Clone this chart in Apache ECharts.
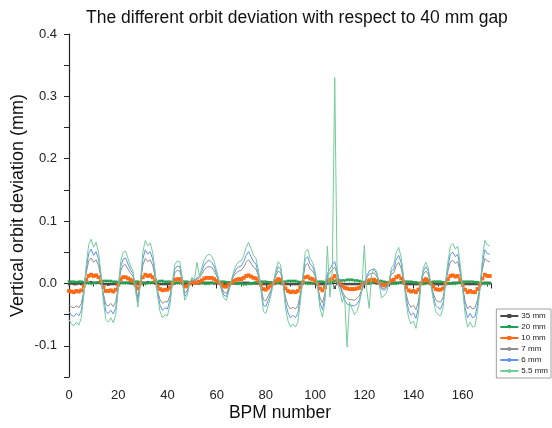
<!DOCTYPE html>
<html>
<head>
<meta charset="utf-8">
<script src="https://cdn.jsdelivr.net/npm/echarts@6/dist/echarts.min.js"></script>
<style>
  html, body { margin: 0; padding: 0; background: #fff; }
  #chart { width: 552px; height: 428px; }
</style>
</head>
<body>
<div id="chart"></div>
<script>
const seriesNames = ['35 mm', '20 mm', '10 mm', '7 mm', '6 mm', '5.5 mm'];
const xTicks = [0, 20, 40, 60, 80, 100, 120, 140, 160];
const yTicks = [-0.1, 0.0, 0.1, 0.2, 0.3, 0.4];

const gap35 = [
  -0.001, 0.000, -0.001, -0.001, 0.000, -0.001, 0.000, 0.001, 0.001, 0.002, 0.001, 0.001, 0.001, 0.000, -0.001, -0.001,
  -0.002, -0.001, -0.001, -0.001, 0.000, 0.001, 0.001, 0.001, 0.001, 0.000, 0.000, 0.000, -0.001, 0.000, 0.001, 0.001,
  0.002, 0.001, 0.001, 0.000, 0.000, -0.001, -0.001, -0.001, -0.001, -0.001, 0.000, 0.000, 0.001, 0.001, 0.000, -0.001,
  -0.001, 0.000, 0.000, 0.000, 0.000, 0.000, 0.001, 0.001, 0.001, 0.001, 0.001, 0.000, 0.000, 0.000, -0.001, -0.001,
  -0.001, 0.000, 0.000, 0.000, 0.000, 0.001, 0.001, 0.001, 0.001, 0.001, 0.000, 0.000, 0.000, 0.000, -0.001, -0.001,
  -0.001, -0.001, 0.000, 0.000, 0.000, 0.001, 0.000, 0.000, -0.001, -0.001, -0.001, -0.001, -0.001, -0.001, 0.000, 0.000,
  0.001, 0.001, 0.001, 0.000, 0.000, 0.000, -0.001, -0.001, -0.001, 0.000, 0.000, 0.001, -0.007, 0.001, 0.000, -0.001,
  -0.001, -0.001, -0.001, -0.001, -0.001, -0.001, -0.001, -0.001, 0.000, 0.000, 0.000, 0.001, 0.001, 0.000, 0.000, -0.001,
  -0.001, -0.001, 0.000, 0.000, 0.001, 0.001, 0.001, 0.001, 0.000, -0.001, -0.001, -0.001, -0.001, -0.001, -0.001, 0.000,
  0.000, 0.001, 0.001, 0.000, 0.000, -0.001, -0.001, -0.001, -0.001, -0.001, 0.000, 0.000, 0.001, 0.001, 0.001, 0.001,
  0.000, -0.001, -0.001, -0.001, -0.001, -0.001, -0.001, 0.000, 0.000, 0.001, 0.001, 0.001
];

const gap20 = [
  0.002, 0.002, 0.002, 0.001, 0.002, 0.002, 0.001, 0.000, 0.000, -0.001, 0.000, 0.000, 0.001, 0.002, 0.003, 0.003,
  0.003, 0.003, 0.002, 0.002, 0.001, 0.000, 0.000, 0.000, 0.000, 0.001, 0.001, 0.002, 0.002, 0.001, 0.000, -0.001,
  0.000, 0.000, 0.001, 0.002, 0.002, 0.003, 0.003, 0.002, 0.002, 0.002, 0.001, 0.000, 0.000, 0.000, 0.001, 0.002,
  0.002, 0.001, 0.001, 0.001, 0.001, 0.000, 0.000, -0.001, -0.001, -0.001, 0.000, 0.000, 0.001, 0.001, 0.002, 0.002,
  0.001, 0.001, 0.000, 0.000, -0.001, -0.001, -0.001, -0.002, -0.002, -0.001, -0.001, 0.000, 0.001, 0.001, 0.002, 0.002,
  0.002, 0.001, 0.001, 0.000, 0.000, 0.000, 0.001, 0.002, 0.002, 0.003, 0.003, 0.003, 0.003, 0.002, 0.001, 0.000,
  0.000, -0.001, -0.001, 0.000, 0.001, 0.002, 0.002, 0.002, 0.001, 0.001, 0.001, 0.002, 0.003, 0.003, 0.004, 0.004,
  0.004, 0.005, 0.005, 0.005, 0.004, 0.004, 0.003, 0.002, 0.001, 0.001, 0.000, 0.000, 0.001, 0.002, 0.003, 0.003,
  0.002, 0.001, 0.000, 0.000, -0.001, -0.001, 0.000, 0.001, 0.002, 0.002, 0.002, 0.002, 0.001, 0.001, 0.000, 0.000,
  -0.001, -0.001, 0.000, 0.001, 0.002, 0.002, 0.002, 0.002, 0.001, 0.000, 0.000, -0.001, -0.001, -0.001, 0.000, 0.001,
  0.002, 0.002, 0.002, 0.002, 0.002, 0.001, 0.001, 0.000, 0.000, -0.001, -0.001, -0.001
];

const gap10 = [
  -0.012, -0.013, -0.014, -0.012, -0.013, -0.011, -0.004, 0.006, 0.012, 0.014, 0.012, 0.013, 0.010, 0.003, -0.006, -0.012,
  -0.012, -0.011, -0.013, -0.010, -0.002, 0.007, 0.010, 0.010, 0.008, 0.006, 0.004, -0.002, -0.008, 0.000, 0.010, 0.014,
  0.012, 0.013, 0.010, 0.004, -0.004, -0.009, -0.011, -0.010, -0.010, -0.007, 0.000, 0.006, 0.007, 0.007, 0.002, -0.005,
  -0.004, 0.000, 0.002, 0.001, 0.002, 0.003, 0.005, 0.008, 0.009, 0.009, 0.009, 0.007, 0.004, 0.001, -0.002, -0.005,
  -0.005, -0.002, 0.001, 0.004, 0.006, 0.007, 0.007, 0.009, 0.012, 0.013, 0.011, 0.009, 0.008, 0.004, -0.002, -0.009,
  -0.010, -0.007, -0.004, 0.000, 0.004, 0.007, 0.006, 0.000, -0.008, -0.012, -0.014, -0.013, -0.014, -0.012, -0.006, 0.002,
  0.010, 0.011, 0.008, 0.007, 0.004, -0.001, -0.008, -0.011, -0.006, 0.004, 0.006, 0.008, 0.012, 0.005, 0.000, -0.004,
  -0.007, -0.008, -0.009, -0.009, -0.009, -0.008, -0.007, -0.003, 0.000, 0.003, 0.005, 0.006, 0.006, 0.004, 0.001, -0.002,
  -0.003, -0.002, 0.001, 0.005, 0.006, 0.010, 0.012, 0.008, 0.002, -0.006, -0.011, -0.013, -0.012, -0.014, -0.010, 0.000,
  0.005, 0.007, 0.005, 0.000, -0.005, -0.009, -0.010, -0.010, -0.008, 0.000, 0.007, 0.012, 0.013, 0.011, 0.012, 0.006,
  -0.002, -0.010, -0.014, -0.012, -0.014, -0.014, -0.009, -0.002, 0.008, 0.014, 0.012, 0.012
];

const gap7 = [
  -0.034, -0.038, -0.039, -0.036, -0.039, -0.032, -0.012, 0.017, 0.036, 0.041, 0.034, 0.038, 0.029, 0.009, -0.017, -0.034,
  -0.036, -0.032, -0.037, -0.029, -0.006, 0.020, 0.029, 0.030, 0.023, 0.016, 0.012, -0.006, -0.022, 0.000, 0.029, 0.040,
  0.035, 0.038, 0.029, 0.012, -0.012, -0.026, -0.032, -0.029, -0.030, -0.020, 0.000, 0.017, 0.021, 0.020, 0.006, -0.016,
  -0.012, 0.000, 0.006, 0.003, 0.007, 0.009, 0.015, 0.022, 0.026, 0.027, 0.026, 0.020, 0.012, 0.003, -0.007, -0.014,
  -0.016, -0.007, 0.003, 0.012, 0.017, 0.020, 0.021, 0.026, 0.034, 0.038, 0.032, 0.026, 0.023, 0.012, -0.006, -0.026,
  -0.028, -0.020, -0.012, 0.000, 0.012, 0.020, 0.017, 0.000, -0.023, -0.035, -0.041, -0.038, -0.041, -0.036, -0.017, 0.006,
  0.029, 0.032, 0.023, 0.020, 0.012, -0.003, -0.023, -0.031, -0.017, 0.012, 0.017, 0.022, 0.026, 0.015, 0.000, -0.012,
  -0.020, -0.024, -0.026, -0.026, -0.027, -0.024, -0.020, -0.009, 0.000, 0.009, 0.015, 0.016, 0.017, 0.012, 0.003, -0.007,
  -0.008, -0.006, 0.002, 0.015, 0.017, 0.029, 0.034, 0.024, 0.006, -0.017, -0.032, -0.038, -0.035, -0.042, -0.029, 0.000,
  0.015, 0.020, 0.015, 0.000, -0.015, -0.026, -0.029, -0.030, -0.023, 0.000, 0.020, 0.035, 0.037, 0.032, 0.035, 0.017,
  -0.006, -0.029, -0.041, -0.036, -0.041, -0.039, -0.026, -0.006, 0.023, 0.040, 0.036, 0.035
];

const gap6 = [
  -0.045, -0.051, -0.053, -0.048, -0.052, -0.043, -0.016, 0.023, 0.048, 0.055, 0.045, 0.051, 0.039, 0.012, -0.023, -0.045,
  -0.048, -0.043, -0.049, -0.039, -0.008, 0.027, 0.039, 0.041, 0.031, 0.022, 0.016, -0.008, -0.030, 0.000, 0.039, 0.054,
  0.047, 0.051, 0.039, 0.016, -0.016, -0.035, -0.043, -0.039, -0.041, -0.027, 0.000, 0.023, 0.028, 0.027, 0.008, -0.021,
  -0.016, 0.000, 0.008, 0.004, 0.009, 0.012, 0.020, 0.030, 0.035, 0.037, 0.034, 0.027, 0.016, 0.004, -0.009, -0.019,
  -0.021, -0.009, 0.004, 0.016, 0.023, 0.027, 0.028, 0.035, 0.045, 0.051, 0.043, 0.035, 0.031, 0.016, -0.008, -0.035,
  -0.037, -0.027, -0.016, 0.000, 0.016, 0.027, 0.023, 0.000, -0.031, -0.047, -0.055, -0.051, -0.055, -0.048, -0.023, 0.008,
  0.039, 0.043, 0.031, 0.027, 0.016, -0.004, -0.031, -0.042, -0.023, 0.016, 0.023, 0.030, 0.035, 0.020, 0.000, -0.016,
  -0.027, -0.033, -0.035, -0.035, -0.036, -0.033, -0.027, -0.012, 0.000, 0.012, 0.020, 0.022, 0.023, 0.016, 0.004, -0.009,
  -0.011, -0.008, 0.002, 0.020, 0.023, 0.039, 0.045, 0.033, 0.008, -0.023, -0.043, -0.051, -0.047, -0.056, -0.039, 0.000,
  0.020, 0.027, 0.020, 0.000, -0.020, -0.035, -0.039, -0.041, -0.031, 0.000, 0.027, 0.047, 0.050, 0.043, 0.047, 0.023,
  -0.008, -0.039, -0.055, -0.048, -0.055, -0.053, -0.035, -0.008, 0.031, 0.054, 0.048, 0.047
];

const gap55 = [
  -0.058, -0.065, -0.068, -0.062, -0.067, -0.055, -0.020, 0.030, 0.062, 0.071, 0.058, 0.066, 0.050, 0.015, -0.030, -0.058,
  -0.062, -0.055, -0.063, -0.050, -0.010, 0.035, 0.050, 0.052, 0.040, 0.028, 0.020, -0.010, -0.038, 0.000, 0.050, 0.069,
  0.060, 0.065, 0.050, 0.020, -0.020, -0.045, -0.055, -0.050, -0.052, -0.035, 0.000, 0.030, 0.036, 0.035, 0.010, -0.027,
  -0.020, 0.000, 0.010, 0.005, 0.034, 0.012, 0.025, 0.038, 0.045, 0.047, 0.044, 0.035, 0.020, 0.005, -0.012, -0.024,
  -0.027, -0.012, 0.005, 0.020, 0.030, 0.035, 0.036, 0.045, 0.058, 0.066, 0.055, 0.045, 0.040, 0.020, -0.010, -0.045,
  -0.048, -0.035, -0.020, 0.000, 0.020, 0.035, 0.030, 0.000, -0.040, -0.060, -0.070, -0.065, -0.070, -0.062, -0.030, 0.010,
  0.050, 0.055, 0.040, 0.034, 0.020, -0.005, -0.040, -0.054, -0.030, 0.060, -0.022, 0.020, 0.330, 0.000, -0.010, -0.030,
  -0.020, -0.102, -0.030, -0.040, -0.050, -0.045, -0.032, -0.010, 0.061, -0.010, -0.040, 0.015, 0.024, 0.020, 0.000, -0.023,
  -0.020, -0.015, 0.000, 0.025, 0.030, 0.050, 0.058, 0.042, 0.010, -0.030, -0.055, -0.065, -0.060, -0.072, -0.050, 0.000,
  0.025, 0.034, 0.025, 0.000, -0.025, -0.045, -0.050, -0.052, -0.040, 0.000, 0.035, 0.060, 0.064, 0.055, 0.060, 0.030,
  -0.010, -0.050, -0.070, -0.062, -0.070, -0.068, -0.045, -0.010, 0.040, 0.069, 0.062, 0.060
];

const seriesValues = [gap35, gap20, gap10, gap7, gap6, gap55];
const seriesColors = ['#4a4a4a', '#23a04f', '#ff6a13', '#8e8e8e', '#5f93ee', '#74cc98'];
const seriesSymbols = ['rect', 'triangle', 'rect', 'none', 'none', 'none'];
const symbolSizes = [2.5, 3.5, 3.8, 0, 0, 0];

const chart = echarts.init(document.getElementById('chart'), null, { renderer: 'canvas' });

const font = 'Liberation Sans, Arial, sans-serif';

const option = {
  animation: false,
  backgroundColor: '#fff',
  title: {
    text: 'The different orbit deviation with respect to 40 mm gap',
    left: 81,
    top: 4,
    textStyle: { fontFamily: font, fontSize: 17.5, fontWeight: 'normal', color: '#111' }
  },
  legend: {
    data: seriesNames,
    orient: 'vertical',
    right: 1,
    bottom: 50,
    itemWidth: 18,
    itemHeight: 5,
    itemGap: 3,
    padding: [3, 3, 3, 3],
    borderColor: '#888',
    borderWidth: 0.8,
    backgroundColor: '#fff',
    textStyle: { fontFamily: font, fontSize: 8, color: '#222', padding: [0, 0, 0, -2] }
  },
  grid: { left: 69, right: 61, top: 34, bottom: 51, outerBoundsMode: 'none', containLabel: false },
  xAxis: {
    type: 'value',
    min: 0,
    max: 171.5,
    interval: 20,
    name: 'BPM number',
    nameLocation: 'middle',
    nameGap: 27,
    nameMoveOverlap: false,
    nameTextStyle: { fontFamily: font, fontSize: 17.5, color: '#111' },
    axisLine: { lineStyle: { color: '#222', width: 1.2 } },
    axisTick: { length: 5, lineStyle: { color: '#222' } },
    minorTick: { show: true, splitNumber: 2, length: 3, lineStyle: { color: '#222' } },
    axisLabel: {
      fontFamily: font, fontSize: 13, color: '#222', margin: 12,
      showMaxLabel: false,
      formatter: v => (xTicks.indexOf(v) >= 0 ? String(v) : '')
    },
    splitLine: { show: false }
  },
  yAxis: {
    type: 'value',
    min: -0.15,
    max: 0.4,
    interval: 0.05,
    name: 'Vertical orbit deviation (mm)',
    nameLocation: 'middle',
    nameGap: 42,
    nameMoveOverlap: false,
    nameTextStyle: { fontFamily: font, fontSize: 18, color: '#111' },
    axisLine: { show: true, lineStyle: { color: '#222', width: 1.2 } },
    axisTick: { length: 5, lineStyle: { color: '#222' } },
    axisLabel: {
      fontFamily: font, fontSize: 13, color: '#222', margin: 12,
      formatter: v => {
        const r = Math.round(v * 100) / 100;
        return yTicks.some(t => Math.abs(t - r) < 1e-9) ? r.toFixed(1) : '';
      }
    },
    splitLine: { show: false }
  },
  series: seriesNames.map((name, k) => ({
    name: name,
    type: 'line',
    data: seriesValues[k].map((v, i) => [i, v]),
    symbol: seriesSymbols[k],
    symbolSize: symbolSizes[k],
    symbolRotate: seriesSymbols[k] === 'triangle' ? 180 : 0,
    showSymbol: seriesSymbols[k] !== 'none',
    lineStyle: { color: seriesColors[k], width: 1 },
    itemStyle: { color: seriesColors[k] },
    z: 2 + k
  }))
};

chart.setOption(option);
</script>
</body>
</html>
